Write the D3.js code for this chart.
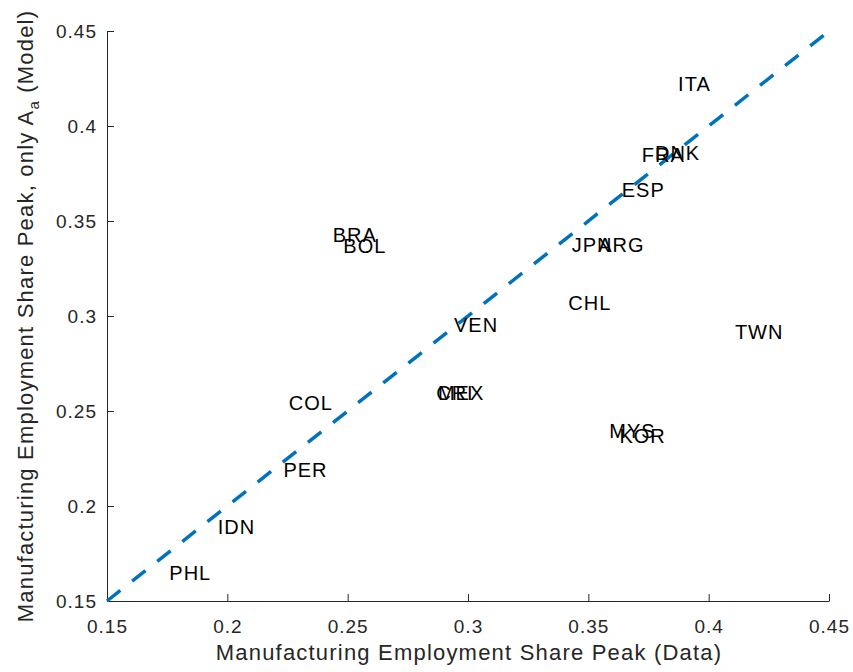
<!DOCTYPE html>
<html><head><meta charset="utf-8">
<script src="https://cdn.jsdelivr.net/npm/d3@7"></script>
<style>body{margin:0;background:#fff}svg{display:block}</style>
</head><body><div id="chart"></div>
<script>
const countries = ["ITA","FRA","DNK","ESP","JPN","ARG","BRA","BOL","VEN","CRI","MEX","COL","PER","IDN","PHL","CHL","TWN","MYS","KOR"];
const dataShare = [0.3873,0.3722,0.3777,0.3639,0.3431,0.3541,0.2438,0.2482,0.2942,0.2868,0.2875,0.2255,0.2233,0.1960,0.1759,0.3417,0.4109,0.3587,0.3629];
const modelShare = [0.4221,0.3847,0.3858,0.3663,0.3374,0.3374,0.3428,0.3368,0.2954,0.2595,0.2595,0.2543,0.2192,0.1889,0.1647,0.3069,0.2916,0.2397,0.2368];
const xTicks = [0.15,0.2,0.25,0.3,0.35,0.4,0.45];
const yTicks = [0.15,0.2,0.25,0.3,0.35,0.4,0.45];
const diagLine = [0.15,0.45];

const W=853,H=672;
const m={left:107,right:24,top:31,bottom:71};
const svg=d3.select("#chart").append("svg").attr("width",W).attr("height",H);
const x=d3.scaleLinear().domain([0.15,0.45]).range([m.left,W-m.right]);
const y=d3.scaleLinear().domain([0.15,0.45]).range([H-m.bottom,m.top]);
const font="Liberation Sans, Arial, Helvetica, sans-serif";
const axCol="#262626";

const xa=svg.append("g").attr("transform",`translate(0,${H-m.bottom})`)
  .call(d3.axisBottom(x).tickValues(xTicks).tickSizeInner(-7).tickSizeOuter(0).tickPadding(19).tickFormat(d=>String(+d.toFixed(2))));
const ya=svg.append("g").attr("transform",`translate(${m.left},0)`)
  .call(d3.axisLeft(y).tickValues(yTicks).tickSizeInner(-7).tickSizeOuter(0).tickPadding(10).tickFormat(d=>String(+d.toFixed(2))));
[xa,ya].forEach(g=>{
  g.selectAll("path,line").attr("stroke",axCol).attr("stroke-width",1);
  g.selectAll("text").attr("fill",axCol).style("font-family",font).style("font-size","19px").style("letter-spacing","1px");
});

// diagonal
svg.append("line")
  .attr("x1",x(diagLine[0])).attr("y1",y(diagLine[0]))
  .attr("x2",x(diagLine[1])).attr("y2",y(diagLine[1]))
  .attr("stroke","#0072BD").attr("stroke-width",3.5).attr("stroke-dasharray","17,15");

// labels
svg.append("g").selectAll("text").data(countries).join("text")
  .attr("x",(d,i)=>x(dataShare[i])).attr("y",(d,i)=>y(modelShare[i]))
  .attr("dy","0.36em").attr("fill","#000")
  .style("font-family",font).style("font-size","20px").style("letter-spacing","1px").text(d=>d);

// x title
svg.append("text").attr("x",469).attr("y",660)
  .attr("text-anchor","middle").attr("fill",axCol)
  .style("font-family",font).style("font-size","22px").style("letter-spacing","1.2px")
  .text("Manufacturing Employment Share Peak (Data)");

// y title
const yt=svg.append("text").attr("transform",`translate(33,${(m.top+H-m.bottom)/2}) rotate(-90)`)
  .attr("text-anchor","middle").attr("fill",axCol)
  .style("font-family",font).style("font-size","22px").style("letter-spacing","1.2px");
yt.append("tspan").text("Manufacturing Employment Share Peak, only A");
yt.append("tspan").attr("dy","6").style("font-size","15px").text("a");
yt.append("tspan").attr("dy","-6").text("  (Model)");
</script></body></html>
